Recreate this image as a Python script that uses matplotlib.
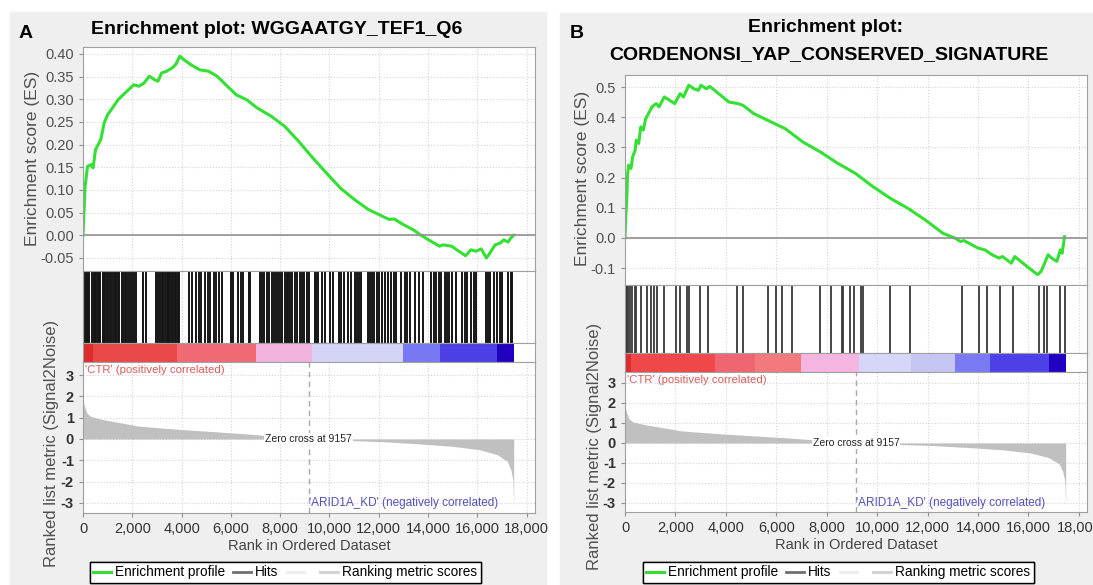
import matplotlib.pyplot as plt
from matplotlib.lines import Line2D
from matplotlib.patches import Rectangle

plt.rcParams['font.family'] = ['Liberation Sans', 'DejaVu Sans']
plt.rcParams['axes.unicode_minus'] = False

W, H = 1093, 585

# ranked list metric (same ranked list in both panels)
metric_rank = [0, 20, 85, 155, 300, 600, 860, 1565, 2270, 3680, 5090, 6500, 7350, 9040, 9157,
               11010, 12140, 13550, 14960, 16090, 16800, 17220, 17360, 17440, 17470, 17475]
metric_value = [1.9, 1.7, 1.45, 1.22, 1.06, 0.97, 0.9, 0.75, 0.6, 0.47, 0.36, 0.25, 0.17, 0.03, 0.0,
                -0.08, -0.125, -0.22, -0.34, -0.5, -0.73, -1.05, -1.44, -1.9, -3.0, -3.1]
zero_cross = 9157

# panel A: WGGAATGY_TEF1_Q6
es_rank_a = [0, 85, 183, 324, 409, 508, 720, 860, 1000, 1142, 1424, 1706, 2059, 2270, 2480, 2693,
             2905, 3046, 3187, 3398, 3610, 3750, 3934, 4103, 4385, 4737, 5090, 5443, 5795, 6218,
             6641, 7064, 7628, 8192, 8756, 9320, 9884, 10448, 11012, 11576, 12000, 12422, 12634,
             12986, 13409, 13691, 14114, 14467, 14608, 14960, 15242, 15524, 15736, 15947, 16159,
             16370, 16511, 16722, 16934, 17075, 17244, 17357, 17470]
es_value_a = [0.0, 0.108, 0.152, 0.156, 0.149, 0.189, 0.211, 0.248, 0.266, 0.277, 0.299, 0.314,
              0.332, 0.329, 0.336, 0.351, 0.343, 0.340, 0.358, 0.362, 0.369, 0.376, 0.395, 0.387,
              0.376, 0.365, 0.362, 0.351, 0.332, 0.310, 0.299, 0.281, 0.263, 0.240, 0.207, 0.171,
              0.137, 0.104, 0.079, 0.057, 0.046, 0.035, 0.036, 0.024, 0.012, 0.001, -0.013, -0.024,
              -0.021, -0.024, -0.035, -0.045, -0.032, -0.035, -0.030, -0.050, -0.039, -0.021,
              -0.017, -0.010, -0.015, -0.006, 0.0]
hits_a = [10, 60, 110, 160, 210, 250, 380, 430, 480, 540, 600, 650, 700, 800, 850, 910, 970, 1030,
          1080, 1130, 1220, 1280, 1340, 1400, 1470, 1570, 1630, 1700, 1760, 1830, 1900, 2000, 2070,
          2150, 2420, 2540, 2980, 3050, 3120, 3190, 3250, 3330, 3390, 3440, 3500, 3550, 3610, 3660,
          3720, 3780, 3840, 3890, 4315, 4427, 4600, 4700, 4800, 4950, 5090, 5160, 5300, 5380, 5500,
          5650, 6010, 6090, 6290, 6400, 6500, 6720, 6780, 7200, 7280, 7360, 7470, 7560, 7650, 7740,
          7830, 7900, 7990, 8080, 8180, 8260, 8330, 8410, 8500, 8600, 8700, 8800, 8890, 8980, 9080,
          9170, 9400, 9460, 9530, 9680, 9800, 10030, 10150, 10380, 10480, 10580, 10740, 10860,
          11020, 11120, 11200, 11290, 11580, 11650, 11720, 11790, 11930, 12030, 12140, 12260,
          12390, 12490, 12600, 12700, 12920, 13060, 13130, 13270, 13480, 13620, 13790, 14120,
          14250, 14330, 14430, 14540, 14680, 14780, 14870, 14960, 15120, 15390, 15490, 15590,
          15740, 15850, 15950, 16370, 16450, 16510, 16660, 16790, 16940, 17000, 17230, 17350, 17420]
band_edges_a = [0, 400, 3800, 7000, 9300, 13000, 14500, 16800, 17475]

# panel B: CORDENONSI_YAP_CONSERVED_SIGNATURE
es_rank_b = [0, 28, 70, 97, 139, 236, 306, 403, 445, 542, 625, 723, 820, 931, 1070, 1237, 1348,
             1557, 1765, 1974, 2182, 2321, 2530, 2738, 2905, 3016, 3225, 3364, 3711, 4128, 4476,
             4684, 5101, 5379, 5796, 6352, 7047, 7742, 8437, 9132, 9827, 10522, 11217, 11912,
             12607, 13094, 13302, 13441, 13997, 14275, 14553, 14831, 14970, 15318, 15457, 15944,
             16361, 16499, 16638, 16777, 16916, 17124, 17263, 17333, 17430]
es_value_b = [0.0, 0.07, 0.126, 0.203, 0.241, 0.230, 0.269, 0.291, 0.324, 0.313, 0.368, 0.357,
              0.395, 0.412, 0.434, 0.445, 0.434, 0.467, 0.456, 0.445, 0.478, 0.467, 0.506, 0.494,
              0.489, 0.506, 0.494, 0.502, 0.478, 0.450, 0.445, 0.439, 0.412, 0.401, 0.384, 0.362,
              0.318, 0.285, 0.247, 0.214, 0.170, 0.131, 0.098, 0.059, 0.015, -0.001, -0.012,
              -0.009, -0.034, -0.040, -0.056, -0.067, -0.062, -0.084, -0.062, -0.095, -0.122,
              -0.111, -0.084, -0.056, -0.067, -0.078, -0.040, -0.051, 0.004]
hits_b = [20, 60, 110, 200, 280, 385, 450, 625, 885, 1020, 1150, 1280, 1550, 2040, 2170, 2440,
          2540, 2970, 3300, 4440, 4680, 5670, 6000, 6230, 6620, 7720, 8150, 8600, 8640, 8940, 9070,
          9340, 9450, 10490, 11290, 13350, 14020, 14350, 14860, 15370, 16420, 16620, 16720, 17260,
          17440]
band_edges_b = [0, 240, 3560, 5150, 6980, 9270, 11330, 13080, 14470, 16810, 17475]

band_colors_a = ['#dd2c2c', '#e84848', '#f06a74', '#f2b4de', '#d4d4f6', '#7878f2', '#4c40e4', '#2200c0']
band_colors_b = ['#dd2c2c', '#ee4848', '#f06670', '#f27a7c', '#f4b6e0', '#d6d6f8', '#c6c6f4',
                 '#7a7af2', '#4c40e6', '#2200c0']


def box(x0, y0, x1, y1):
    return [x0 / W, 1 - y1 / H, (x1 - x0) / W, (y1 - y0) / H]


def style(ax):
    for s in ax.spines.values():
        s.set_color('#a0a0a0')
        s.set_linewidth(0.8)
    ax.tick_params(length=3, color='#909090', labelsize=10.5, labelcolor='#505050')
    ax.grid(True, color='#d4d4d4', ls=':', lw=0.8)
    ax.set_axisbelow(True)


def panel(x0, x1, ys, xmax, es_rank, es_value, es_lim, es_ticks, es_fmt,
          hits, hit_color, hit_lw, band_edges, band_colors, m_lim):
    y_es, y_hits, y_band, y_m, y_end = ys
    ax1 = fig.add_axes(box(x0, y_es, x1, y_hits))
    ax2 = fig.add_axes(box(x0, y_hits, x1, y_band))
    ax3 = fig.add_axes(box(x0, y_band, x1, y_m))
    ax4 = fig.add_axes(box(x0, y_m, x1, y_end))
    for ax in (ax1, ax2, ax3, ax4):
        style(ax)
        ax.set_xlim(0, xmax)
        ax.set_xticks(range(0, 18001, 2000))

    ax1.plot(es_rank, es_value, color='#33e033', lw=2.2)
    ax1.axhline(0, color='#909090', lw=1.2)
    ax1.set_ylim(*es_lim)
    ax1.set_yticks(es_ticks)
    ax1.set_yticklabels([es_fmt.format(v) for v in es_ticks])
    ax1.tick_params(axis='x', labelbottom=False, length=0)

    ax2.vlines(hits, 0, 1, color=hit_color, lw=hit_lw)
    ax2.set_ylim(0, 1)
    ax2.set_yticks([])
    ax2.tick_params(axis='x', labelbottom=False, length=0)

    for i, c in enumerate(band_colors):
        ax3.axvspan(band_edges[i], band_edges[i + 1], color=c, lw=0)
    ax3.set_ylim(0, 1)
    ax3.set_yticks([])
    ax3.grid(False)
    ax3.tick_params(axis='x', labelbottom=False, length=0)

    ax4.fill_between(metric_rank, metric_value, 0, color='#c0c0c0', lw=0)
    ax4.axvline(zero_cross, color='#a8a8a8', ls=(0, (4, 3)), lw=1)
    ax4.set_ylim(*m_lim)
    ax4.set_yticks(range(-3, 4))
    ax4.tick_params(axis='y', labelsize=10.5, labelcolor='#333333')
    for t in ax4.get_yticklabels():
        t.set_fontweight('bold')
    ax4.set_xticklabels(['{:,}'.format(v) for v in range(0, 18001, 2000)])
    ax4.tick_params(axis='x', labelcolor='#333333')
    ax4.text(zero_cross, 0, 'Zero cross at 9157', ha='center', va='center', fontsize=7.5,
             color='#222222', bbox=dict(fc='white', ec='none', pad=0.6))
    ax4.text(90, m_lim[1] - 0.38, "'CTR' (positively correlated)", ha='left', va='center',
             fontsize=8.2, color='#dd5a5a')
    ax4.text(zero_cross, -3.0, "'ARID1A_KD' (negatively correlated)", ha='left', va='center',
             fontsize=8.5, color='#5252b6')
    ax4.set_xlabel('Rank in Ordered Dataset', fontsize=10.5, color='#444444', labelpad=2)
    return ax1


fig = plt.figure(figsize=(W / 100, H / 100), dpi=100)
fig.patches.append(Rectangle((10 / W, 0), 536 / W, 1 - 12 / H, transform=fig.transFigure,
                             color='#efefef', zorder=-10))
fig.patches.append(Rectangle((560 / W, 0), 533 / W, 1 - 13 / H, transform=fig.transFigure,
                             color='#efefef', zorder=-10))

panel(83, 535, (47, 271, 343, 362, 513), 18340, es_rank_a, es_value_a, (-0.0787, 0.4154),
      [-0.05, 0, 0.05, 0.1, 0.15, 0.2, 0.25, 0.3, 0.35, 0.4], '{:.2f}',
      hits_a, '#151515', 1.4, band_edges_a, band_colors_a, (-3.47, 3.61))
panel(625, 1087, (75, 285, 353, 372, 512), 18320, es_rank_b, es_value_b, (-0.1563, 0.5398),
      [-0.1, 0, 0.1, 0.2, 0.3, 0.4, 0.5], '{:.1f}',
      hits_b, '#383838', 1.3, band_edges_b, band_colors_b, (-3.45, 3.55))

fig.text(26 / W, 1 - 33 / H, 'A', fontsize=14, fontweight='bold', ha='center', va='center')
fig.text(577 / W, 1 - 33 / H, 'B', fontsize=14, fontweight='bold', ha='center', va='center')
fig.text(277 / W, 1 - 30 / H, 'Enrichment plot: WGGAATGY_TEF1_Q6', fontsize=14,
         fontweight='bold', ha='center', va='center')
fig.text(825 / W, 1 - 28 / H, 'Enrichment plot:', fontsize=14, fontweight='bold',
         ha='center', va='center')
fig.text(829 / W, 1 - 55 / H, 'CORDENONSI_YAP_CONSERVED_SIGNATURE', fontsize=14,
         fontweight='bold', ha='center', va='center')

for x, y in [(33, 158), (582, 178)]:
    fig.text(x / W, 1 - y / H, 'Enrichment score (ES)', rotation=90, fontsize=12.5,
             color='#505050', ha='center', va='center')
for x, y in [(52, 443), (594, 446)]:
    fig.text(x / W, 1 - y / H, 'Ranked list metric (Signal2Noise)', rotation=90, fontsize=12,
             color='#505050', ha='center', va='center')

handles = [Line2D([], [], color='#33dd33', lw=2.2), Line2D([], [], color='#707070', lw=2),
           Line2D([], [], color='#ececec', lw=2), Line2D([], [], color='#d0d0d0', lw=2)]
labels = ['Enrichment profile', 'Hits', ' ', 'Ranking metric scores']
for x in (90, 643):
    leg = fig.legend(handles, labels, loc='upper left', bbox_to_anchor=(x / W, 1 - 562 / H),
                     ncol=4, fontsize=9.8, handlelength=1.3, handletextpad=0.3,
                     columnspacing=0.6, borderpad=0.25, borderaxespad=0, fancybox=False,
                     edgecolor='black', framealpha=1)
    leg.get_frame().set_linewidth(1)
    fig.add_artist(leg)

fig.savefig('out.png', dpi=100)
